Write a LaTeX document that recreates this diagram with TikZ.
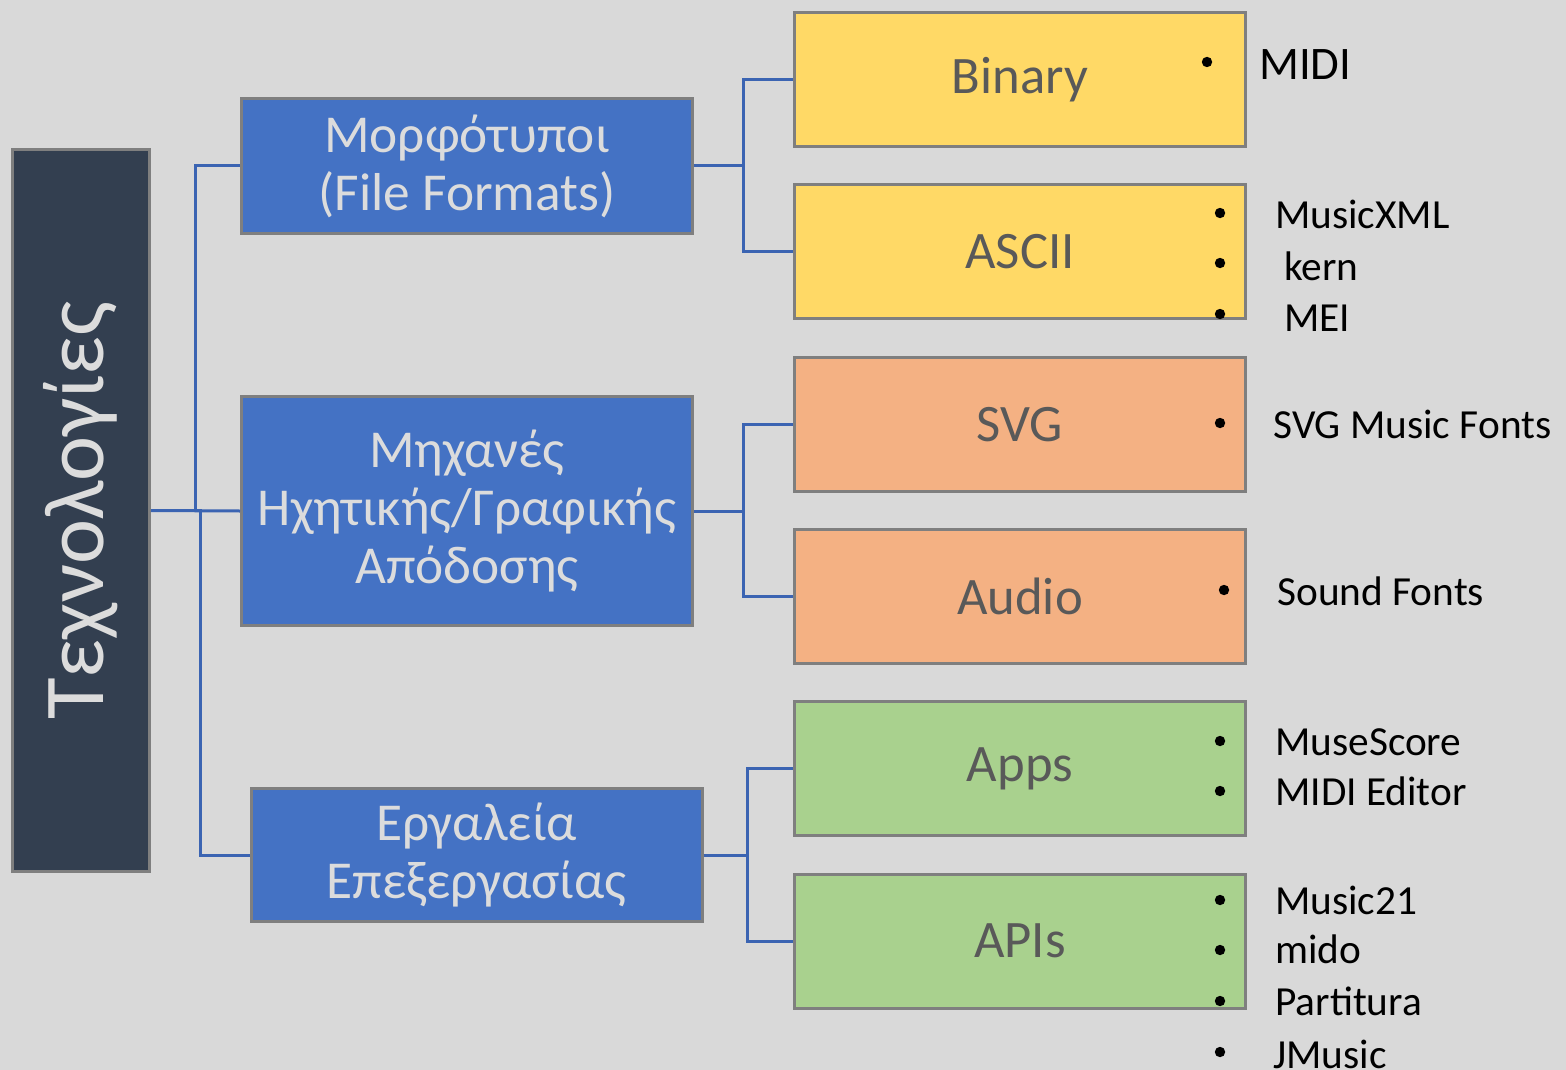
\documentclass[tikz,border=0pt]{standalone}
\usepackage{fontspec}
\setmainfont{Carlito}
\usetikzlibrary{positioning}

\definecolor{bgGray}{HTML}{D9D9D9}
\definecolor{rootFill}{HTML}{333F50}
\definecolor{frameGray}{HTML}{7F7F7F}
\definecolor{catBlue}{HTML}{4472C4}
\definecolor{lineBlue}{HTML}{3B64B2}
\definecolor{fmtYellow}{HTML}{FFD966}
\definecolor{engOrange}{HTML}{F4B183}
\definecolor{toolGreen}{HTML}{A9D18E}
\definecolor{labelGray}{HTML}{595959}
\definecolor{paleText}{HTML}{DCDCDC}

\begin{document}
\begin{tikzpicture}[x=0.75pt, y=-0.75pt,
	box/.style={draw=frameGray, line width=2.25pt, rectangle, inner sep=0pt, align=center},
	cat/.style={box, fill=catBlue, text=paleText, minimum width=338.25pt, font=\fontsize{40}{43.5}\selectfont},
	leaf/.style={box, minimum width=338.25pt, minimum height=100.5pt, text=labelGray, font=\fontsize{39.5}{47}\selectfont},
	item/.style={anchor=base west, inner sep=0pt, font=\fontsize{31}{36}\selectfont},
	dot/.style={circle, fill=black, inner sep=0pt, minimum size=7.8pt},
	link/.style={draw=lineBlue, line width=2.25pt},
	node distance=26.5pt]

	\fill[bgGray] (0,0) rectangle (1566,1070);
	\useasboundingbox (0,0) rectangle (1566,1070);

	% root
	\node (tech) [box, fill=rootFill, text=paleText, minimum width=102.75pt, minimum height=541.5pt,
		font=\fontsize{64}{70}\selectfont] at (81,510.5) {\rotatebox{90}{Τεχνολογίες}};

	% categories
	\node (fmt) [cat, minimum height=101.25pt] at (467,166) {Μορφότυποι\\(File Formats)};
	\node (eng) [cat, minimum height=171.75pt] at (467,511) {Μηχανές\\Ηχητικής/Γραφικής\\Απόδοσης};
	\node (tools) [cat, minimum height=99.75pt] at (476.5,855) {Εργαλεία\\Επεξεργασίας};

	% leaves
	\node (binary) [leaf, fill=fmtYellow] at (1020,79.5) {Binary};
	\node (ascii) [leaf, fill=fmtYellow, below=of binary] {ASCII};
	\node (svg) [leaf, fill=engOrange, below=of ascii] {SVG};
	\node (audio) [leaf, fill=engOrange, below=of svg] {Audio};
	\node (apps) [leaf, fill=toolGreen, below=of audio] {Apps};
	\node (apis) [leaf, fill=toolGreen, below=of apps] {APIs};

	% connectors
	\draw[link] (tech.east) -- (eng.west);
	\draw[link] (tech.east) -- ++(44,0) |- (fmt.west);
	\draw[link] (tech.east) -- ++(49,0) |- (tools.west);
	\draw[link] (fmt.east) -- ++(49,0) |- (binary.west);
	\draw[link] (fmt.east) -- ++(49,0) |- (ascii.west);
	\draw[link] (eng.east) -- ++(49,0) |- (svg.west);
	\draw[link] (eng.east) -- ++(49,0) |- (audio.west);
	\draw[link] (tools.east) -- ++(44,0) |- (apps.west);
	\draw[link] (tools.east) -- ++(44,0) |- (apis.west);

	% bullets and items
	\node (d1) [dot] at (1207,62) {};
	\node (midi) [item, font=\fontsize{35}{40}\selectfont] at (1259,80) {MIDI};
	\node (d2) [dot] at (1220,213) {};
	\node (mxml) [item] at (1275,228) {MusicXML};
	\node (d3) [dot] at (1220,263) {};
	\node (kern) [item] at (1284,280) {kern};
	\node (d4) [dot] at (1220,314) {};
	\node (mei) [item] at (1284,331) {MEI};
	\node (d5) [dot] at (1220,423) {};
	\node (svgfonts) [item] at (1273,438) {SVG Music Fonts};
	\node (d6) [dot] at (1224,590) {};
	\node (sf) [item] at (1277,605) {Sound Fonts};
	\node (d7) [dot] at (1220,741) {};
	\node (muse) [item] at (1275,755) {MuseScore};
	\node (d8) [dot] at (1220,791) {};
	\node (mided) [item] at (1275,805) {MIDI Editor};
	\node (d9) [dot] at (1220,900) {};
	\node (m21) [item] at (1275,914) {Music21};
	\node (d10) [dot] at (1220,950) {};
	\node (mido) [item] at (1275,963) {mido};
	\node (d11) [dot] at (1220,1001) {};
	\node (part) [item] at (1275,1015) {Partitura};
	\node (d12) [dot] at (1220,1052) {};
	\node (jm) [item] at (1273,1068) {JMusic};
\end{tikzpicture}
\end{document}
